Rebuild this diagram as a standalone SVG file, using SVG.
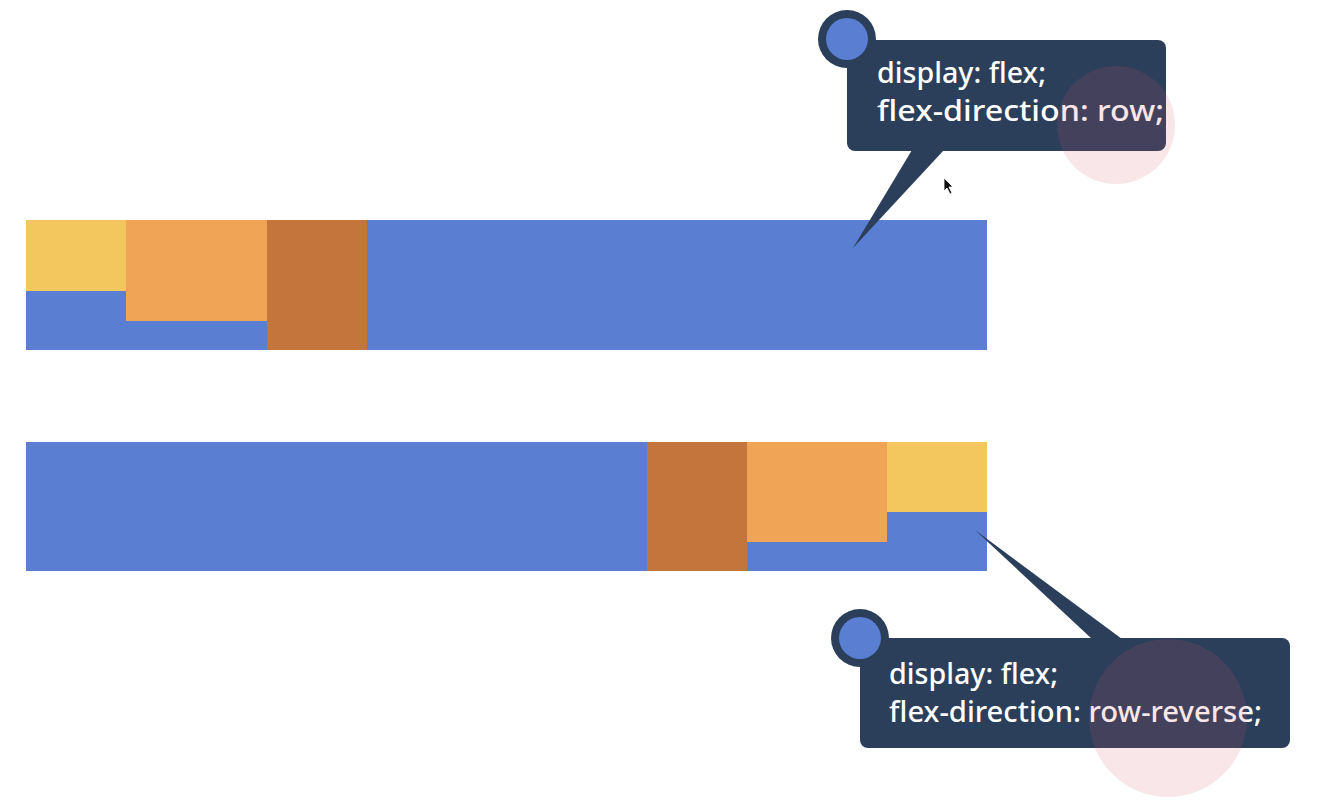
<svg xmlns="http://www.w3.org/2000/svg" width="1342" height="812" viewBox="0 0 1342 812">
<style>
.bl{fill:#5a7fd2}.ye{fill:#f4c65e}.or{fill:#efa456}.br{fill:#c3753c}
.nv{fill:#2b3e5a}
.tx{font-family:"Noto Sans","Noto Sans CJK KR",sans-serif;font-size:29px;font-weight:500;fill:#ffffff}
.hl{fill:#d05866;fill-opacity:0.15}
</style>
<rect width="1342" height="812" fill="#ffffff"/>
<g id="row-container">
<rect class="bl" x="26" y="220" width="961" height="130"/>
<rect class="ye" x="26" y="220" width="100" height="71"/>
<rect class="or" x="126" y="220" width="141" height="101"/>
<rect class="br" x="267" y="220" width="100" height="130"/>
</g>
<g id="row-reverse-container">
<rect class="bl" x="26" y="442" width="961" height="129"/>
<rect class="br" x="647" y="442" width="100" height="129"/>
<rect class="or" x="747" y="442" width="140" height="100"/>
<rect class="ye" x="887" y="442" width="100" height="70"/>
</g>
<g id="callouts-connectors">
<polygon class="nv" points="912,150 944,150 853,248"/>
<polygon class="nv" points="1092,639 1122,639 975,530"/>
</g>
<g id="callout-row">
<rect class="nv" x="847" y="40" width="319" height="111" rx="8"/>
<circle class="nv" cx="847" cy="39" r="29"/>
<circle class="bl" cx="847" cy="39" r="21"/>
<text class="tx" x="877" y="83" textLength="169" lengthAdjust="spacingAndGlyphs">display: flex;</text>
<text class="tx" x="877" y="121" textLength="287" lengthAdjust="spacingAndGlyphs">flex-direction: row;</text>
<circle class="hl" cx="1116" cy="125" r="59"/>
</g>
<g id="callout-row-reverse">
<rect class="nv" x="860" y="638" width="430" height="110" rx="8"/>
<circle class="nv" cx="860" cy="638" r="29"/>
<circle class="bl" cx="860" cy="638" r="21"/>
<text class="tx" x="889" y="684" textLength="169" lengthAdjust="spacingAndGlyphs">display: flex;</text>
<text class="tx" x="889" y="722" textLength="373" lengthAdjust="spacingAndGlyphs">flex-direction: row-reverse;</text>
<circle class="hl" cx="1168" cy="718" r="79"/>
</g>
<g id="cursor">
<polygon points="944,178 944,191 947,188 950,194 952,193 949,187 953,187" fill="#111111" stroke="#ffffff" stroke-width="0.8"/>
</g>
</svg>
